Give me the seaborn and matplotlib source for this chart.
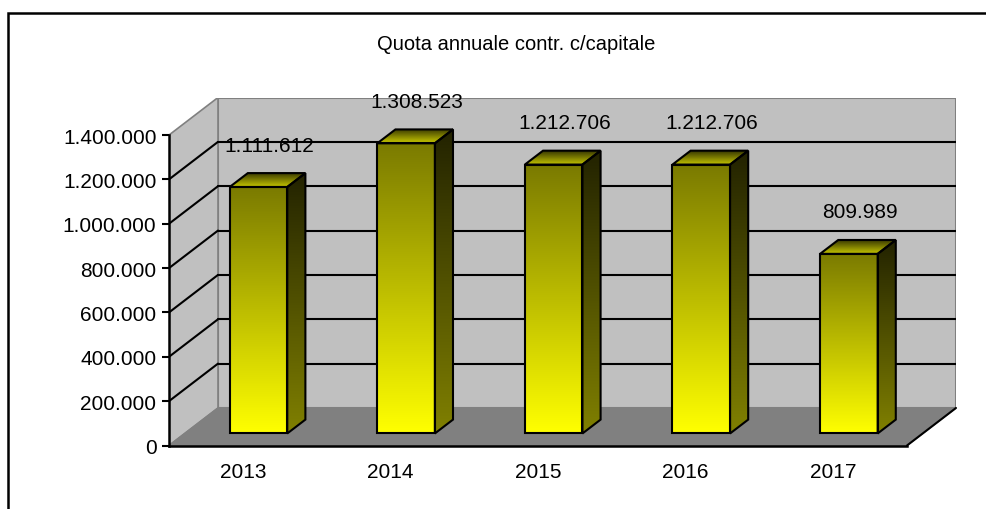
import numpy as np
import pandas as pd
import matplotlib
matplotlib.use('Agg')
import matplotlib.pyplot as plt
import seaborn as sns
from matplotlib.colors import LinearSegmentedColormap
from matplotlib.patches import Polygon, Rectangle

# data
years = ['2013', '2014', '2015', '2016', '2017']
quota = [1111612, 1308523, 1212706, 1212706, 809989]
y_ticks = [0, 200000, 400000, 600000, 800000, 1000000, 1200000, 1400000]
title = 'Quota annuale contr. c/capitale'

sns.set_style('white')
plt.rcParams['font.family'] = ['Liberation Sans', 'DejaVu Sans']
plt.rcParams.update({'font.size': 15, 'text.color': 'black',
                     'xtick.color': 'black', 'ytick.color': 'black'})


def fmt(v):
    return f'{v:,}'.replace(',', '.')


# 3d look: depth of the box and of the bars
DX, DY = 0.332, 169300
F0, BD = 0.32, 0.37
YMAX = y_ticks[-1]
BAR_W = 0.39

fig = plt.figure(figsize=(9.87, 5.10), dpi=100)
ax = fig.add_axes([169 / 987, (510 - 446.5) / 510, (956 - 169) / 987, (446.5 - 98.5) / 510])

df = pd.DataFrame({'anno': years, 'quota': quota})
sns.barplot(data=df, x='anno', y='quota', width=BAR_W, color='yellow', ax=ax,
            edgecolor='black', linewidth=1.5, zorder=5)

# walls and floor
left_wall = Polygon([(-0.5, 0), (-0.5 + DX, DY), (-0.5 + DX, YMAX + DY), (-0.5, YMAX)],
                    facecolor='#C0C0C0', edgecolor='#808080', lw=1.2, zorder=0)
back_wall = Rectangle((-0.5 + DX, DY), 5, YMAX, facecolor='#C0C0C0', edgecolor='#808080', lw=1.5, zorder=0)
floor = Polygon([(-0.5, 0), (4.5, 0), (4.5 + DX, DY), (-0.5 + DX, DY)],
                facecolor='#808080', edgecolor='#808080', lw=1, zorder=0.5)
for p in (back_wall, left_wall, floor):
    ax.add_patch(p)
ax.plot([4.5, 4.5 + DX], [0, DY], color='black', lw=1.5, zorder=1, clip_on=False)

for v in y_ticks[1:-1]:
    ax.plot([-0.5 + DX, 4.5 + DX], [v + DY, v + DY], color='black', lw=1.5, zorder=1)
    ax.plot([-0.5, -0.5 + DX], [v, v + DY], color='black', lw=1.5, zorder=1)


def gradient(patch, c_bottom, c_top, x0, x1, y0, y1, z):
    cmap = LinearSegmentedColormap.from_list('g', [c_bottom, c_top])
    im = ax.imshow(np.linspace(0, 1, 256).reshape(-1, 1), cmap=cmap, origin='lower',
                   extent=(x0, x1, y0, y1), aspect='auto', interpolation='bilinear', zorder=z)
    im.set_clip_path(patch)


for bar, v in zip(ax.patches, quota):
    x0 = bar.get_x() + F0 * DX
    y0 = F0 * DY
    bar.set_x(x0)
    bar.set_y(y0)
    bar.set_facecolor('none')
    w = bar.get_width()
    x1, y1 = x0 + w, y0 + v
    ddx, ddy = BD * DX, BD * DY
    gradient(bar, '#FFFF00', '#7A7A00', x0, x1, y0, y1, 4)
    side = Polygon([(x1, y0), (x1 + ddx, y0 + ddy), (x1 + ddx, y1 + ddy), (x1, y1)],
                   facecolor='none', edgecolor='black', lw=1.5, zorder=5)
    ax.add_patch(side)
    gradient(side, '#808000', '#222200', x1, x1 + ddx, y0, y1 + ddy, 4)
    top = Polygon([(x0, y1), (x1, y1), (x1 + ddx, y1 + ddy), (x0 + ddx, y1 + ddy)],
                  facecolor='none', edgecolor='black', lw=1.5, zorder=5)
    ax.add_patch(top)
    gradient(top, '#C8C800', '#3A3A00', x0, x1 + ddx, y1, y1 + ddy, 4)

# value labels
for i, v in enumerate(quota):
    ax.text(i + 0.18, v + 243000, fmt(v), ha='center', va='center', fontsize=15,
            color='black', zorder=8)

ax.set_xlim(-0.5, 4.5 + DX)
ax.set_ylim(0, YMAX + DY)
ax.set_xlabel('')
ax.set_ylabel('')
ax.set_yticks(y_ticks)
ax.set_yticklabels([fmt(t) for t in y_ticks])
ax.set_xticks(range(len(years)))
ax.set_xticklabels(years)
ax.set_xticks(np.arange(-0.5, 5, 1.0), minor=True)
ax.tick_params(axis='x', which='major', length=0, pad=12, labelsize=15, labelcolor='black')
ax.tick_params(axis='x', which='minor', length=5, width=1.5, color='black', direction='out')
ax.tick_params(axis='y', length=5, width=1.5, color='black', pad=4, labelsize=15,
               labelcolor='black', left=True)
for s in ('top', 'right'):
    ax.spines[s].set_visible(False)
ax.spines['left'].set_bounds(0, YMAX)
ax.spines['bottom'].set_bounds(-0.5, 4.5)
for s in ('left', 'bottom'):
    ax.spines[s].set_color('black')
    ax.spines[s].set_linewidth(1.8)
    ax.spines[s].set_zorder(6)
ax.patch.set_alpha(0)

fig.text(516 / 987, 1 - 45 / 510, title, ha='center', va='center', fontsize=14.5, color='black')

# outer chart frame
fig.patches.append(Rectangle((8 / 987, -0.2), 1.2, 1.2 - 14 / 510,
                             transform=fig.transFigure, facecolor='none',
                             edgecolor='black', lw=1.8, zorder=10))

fig.savefig('out.png', dpi=100)
